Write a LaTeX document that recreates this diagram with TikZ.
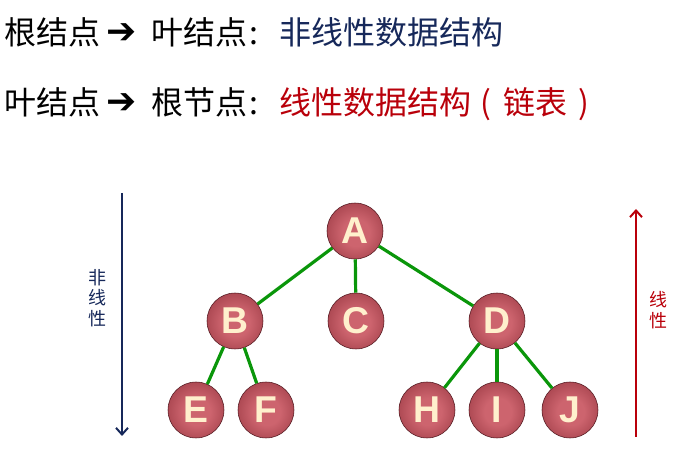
\documentclass[tikz,border=0pt]{standalone}
\usepackage{fontspec}
\setmainfont{Liberation Sans}
\newfontfamily\cjk{Noto Sans CJK SC}
\newfontfamily\symf{DejaVu Sans}
\usetikzlibrary{arrows.meta}
\definecolor{navyc}{RGB}{22,40,90}
\definecolor{redc}{RGB}{185,0,10}
\definecolor{edgec}{RGB}{10,150,10}
\definecolor{balllight}{RGB}{205,100,110}
\definecolor{ballmid}{RGB}{160,62,72}
\definecolor{balldark}{RGB}{100,28,36}
\definecolor{lettc}{RGB}{255,240,205}
\pgfdeclareradialshading{treeball}{\pgfpoint{1bp}{-2bp}}{color(0bp)=(balllight); color(12bp)=(balllight); color(32bp)=(ballmid); color(48bp)=(balldark); color(50bp)=(balldark)}
\newlength{\pxu}
\setlength{\pxu}{0.75pt}
\tikzset{
  tnode/.style={circle, minimum size=56\pxu, inner sep=0pt, shading=treeball, draw=balldark!80!black, line width=0.4pt,
    text=lettc, font=\fontsize{28}{30}\selectfont\bfseries},
  tedge/.style={draw=edgec, line width=2.4pt},
  title/.style={inner sep=0pt, anchor=base west, font=\cjk\fontsize{24}{26}\selectfont},
  punct/.style={inner sep=0pt, anchor=base, font=\cjk\fontsize{24}{26}\selectfont},
  arrowsym/.style={inner sep=0pt, anchor=base, font=\symf\fontsize{27}{29}\selectfont},
  sidelabel/.style={inner sep=0pt, align=center, font=\cjk\fontsize{13.5}{15.5}\selectfont},
}
\begin{document}
\begin{tikzpicture}[x=0.75pt,y=-0.75pt]
\useasboundingbox (0,0) rectangle (687,456);
% titles, line 1
\node[title] (t1a) at (4,45) {根结点};
\node[arrowsym] (t1b) at (122,44) {➔};
\node[title] (t1c) at (151,45) {叶结点};
\node[punct] (t1e) at (254,45) {:};
\node[title, text=navyc] (t1d) at (279,45) {非线性数据结构};
% titles, line 2
\node[title] (t2a) at (4,115) {叶结点};
\node[arrowsym] (t2b) at (122,114) {➔};
\node[title] (t2c) at (151,115) {根节点};
\node[punct] (t2e) at (254,115) {:};
\node[title, text=redc] (t2d) at (279,115) {线性数据结构};
\node[punct, text=redc] (t2f) at (486,115) {(};
\node[title, text=redc] (t2g) at (503,115) {链表};
\node[punct, text=redc] (t2h) at (584,115) {)};
% side arrows
\coordinate (ltop) at (122,193);
\coordinate (lbot) at (122,436);
\coordinate (rtop) at (636,209);
\coordinate (rbot) at (636,437);
\draw[navyc, line width=1.5pt, -{Straight Barb[length=5pt,width=9pt]}] (ltop) -- (lbot);
\draw[redc, line width=1.5pt, -{Straight Barb[length=5pt,width=9pt]}] (rbot) -- (rtop);
\node[sidelabel, text=navyc] (lt) at (98,298) {非\\线\\性};
\node[sidelabel, text=redc] (rt) at (658,310) {线\\性};
% tree nodes
\node[tnode] (A) at (355,231) {A};
\node[tnode] (B) at (235,321) {B};
\node[tnode] (C) at (356,321) {C};
\node[tnode] (D) at (497,321) {D};
\node[tnode] (E) at (196,410) {E};
\node[tnode] (F) at (266,410) {F};
\node[tnode] (H) at (427,410) {H};
\node[tnode] (I) at (497,410) {I};
\node[tnode] (J) at (570,410) {J};
% edges
\draw[tedge] (A) -- (B);
\draw[tedge] (A) -- (C);
\draw[tedge] (A) -- (D);
\draw[tedge] (B) -- (E);
\draw[tedge] (B) -- (F);
\draw[tedge] (D) -- (H);
\draw[tedge] (D) -- (I);
\draw[tedge] (D) -- (J);
\end{tikzpicture}
\end{document}
